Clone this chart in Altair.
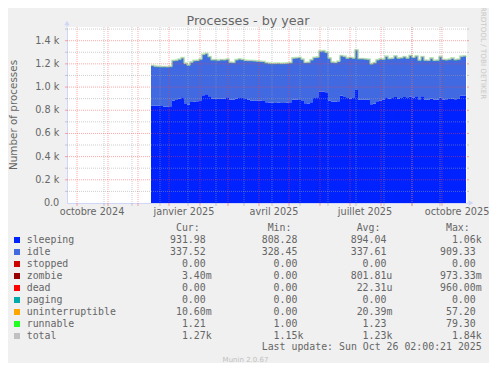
import altair as alt
import pandas as pd

# ---------------- data ----------------
start_date = "2024-12-14"
step_days = 3
sleeping = [842,840,838,836,832,830,835,885,888,900,
            912,860,848,872,876,878,880,930,938,920,
            899,899,900,899,900,912,893,890,900,905,
            906,904,890,885,885,884,884,880,870,866,
            864,862,864,862,862,865,870,890,893,895,
            880,860,858,870,905,913,960,962,955,885,
            876,874,878,925,915,905,902,905,975,893,
            892,890,890,852,856,878,885,893,912,900,
            905,915,900,905,915,905,918,910,920,895,
            920,892,890,900,892,890,908,893,895,896,
            900,895,897,925,928,932]
idle = [343,339,339,339,343,344,342,342,343,339,
        339,344,341,342,351,351,359,351,351,341,
        335,335,331,336,334,327,320,321,334,336,
        331,325,337,342,340,339,337,339,339,339,
        339,342,341,341,342,341,339,359,358,359,
        359,351,355,364,349,344,349,349,344,364,
        338,337,343,344,349,344,352,344,344,351,
        352,351,349,347,353,356,356,346,352,344,
        342,352,349,346,346,344,353,344,347,336,
        341,339,339,349,337,341,353,344,339,343,
        349,340,342,339,339,337]
runnable_level = 1.2

x_domain = ["2024-09-21T00:00:00", "2025-10-26T00:00:00"]
label_dates = ["2024-10-15", "2025-01-15", "2025-04-15", "2025-07-15", "2025-10-15"]
month_starts = ["2024-10-01", "2024-11-01", "2024-12-01", "2025-01-01", "2025-02-01",
                "2025-03-01", "2025-04-01", "2025-05-01", "2025-06-01", "2025-07-01",
                "2025-08-01", "2025-09-01", "2025-10-01"]
minor_dates = ["2024-10-28", "2024-11-25", "2024-12-23", "2025-01-20", "2025-02-17",
               "2025-03-17", "2025-04-14", "2025-05-12", "2025-06-09", "2025-07-07",
               "2025-08-04", "2025-09-01", "2025-09-29"]
y_major = [200, 400, 600, 800, 1000, 1200, 1400]
y_minor = [100, 300, 500, 700, 900, 1100, 1300, 1500]
y_ticks = [0, 200, 400, 600, 800, 1000, 1200, 1400]

names = ["sleeping", "idle", "stopped", "zombie", "dead", "paging",
         "uninterruptible", "runnable", "total"]
colors = ["#0022ff", "#4169e1", "#cc0000", "#990000", "#ff0000", "#00aaaa",
          "#ffa500", "#22ff22", "#c0c0c0"]
cur = ["931.98", "337.52", "0.00", "3.40m", "0.00", "0.00", "10.60m", "1.21", "1.27k"]
mins = ["808.28", "328.45", "0.00", "0.00", "0.00", "0.00", "0.00", "1.00", "1.15k"]
avgs = ["894.04", "337.61", "0.00", "801.81u", "22.31u", "0.00", "20.39m", "1.23", "1.23k"]
maxs = ["1.06k", "909.33", "0.00", "973.33m", "960.00m", "0.00", "57.20", "79.30", "1.84k"]
headers = ["Cur:", "Min:", "Avg:", "Max:"]
last_update = "Last update: Sun Oct 26 02:00:21 2025"

assert len(sleeping) == len(idle)

# ---------------- layout constants ----------------
W, H = 400, 176
PAD_L, PAD_T = 59, 19
TOTAL_W, TOTAL_H = 481, 355
OX, OY = 8 + PAD_L, 8 + PAD_T        # page coords of plot origin
Y_MAX = 1518
FONT = "DejaVu Sans"
MONO = "DejaVu Sans Mono"
FC = "#666666"
AXIS_C = "#CFD6F8"
MGRID = "#ff4040"
GRID = "#a0a0a0"

dates = pd.date_range(start_date, periods=len(sleeping), freq=f"{step_days}D")
df = pd.DataFrame({"date": dates, "sleeping": sleeping, "idle": idle})

xs = alt.Scale(domain=x_domain)
ys = alt.Scale(domain=[0, Y_MAX], nice=False, zero=True)

month_expr = ("['janvier','février','mars','avril','mai','juin','juillet','août',"
              "'septembre','octobre','novembre','décembre'][month(datum.value)]"
              " + ' ' + timeFormat(datum.value, '%Y')")

x_axis = alt.Axis(values=[alt.DateTime(year=int(d[:4]), month=int(d[5:7]), date=int(d[8:10]), hours=12)
                          for d in label_dates],
                  labelExpr=month_expr, ticks=False, grid=False, domainColor=AXIS_C,
                  labelFont=FONT, labelFontSize=9.7, labelColor=FC, labelPadding=3,
                  title=None, labelOverlap=False, labelFlush=False)
y_axis = alt.Axis(labels=False, ticks=False, grid=False, domainColor=AXIS_C, title=None)

base = alt.Chart(df)

sleep_area = base.mark_area(color="#0022ff", interpolate="step-after").encode(
    x=alt.X("date:T", scale=xs, axis=x_axis),
    y=alt.Y("sleeping:Q", scale=ys, axis=y_axis),
)
idle_area = base.transform_calculate(top="datum.sleeping + datum.idle").mark_area(
    color="#4169e1", interpolate="step-after").encode(
    x="date:T", y="top:Q", y2="sleeping:Q")
run_line = base.transform_calculate(total=f"datum.sleeping + datum.idle + {runnable_level}").mark_line(
    color="#22ff22", strokeWidth=2, opacity=0.3, interpolate="step-after").encode(
    x="date:T", y="total:Q")
total_line = base.transform_calculate(total=f"datum.sleeping + datum.idle + {runnable_level}").mark_line(
    color="#c0c0c0", strokeWidth=1, interpolate="step-after").encode(
    x="date:T", y="total:Q")

# y tick labels (as text, one per grid value)
ylab = alt.Chart(pd.DataFrame({"v": y_ticks})).transform_calculate(
    lab="datum.v == 0 ? '0.0' : format(datum.v / 1000, '.1f') + ' k'"
).mark_text(font=FONT, fontSize=9.7, color=FC, align="right", baseline="middle").encode(
    y="v:Q", x=alt.value(-7.7), text="lab:N")

# grid
def vrules(dlist, color, op):
    d = pd.DataFrame({"d": pd.to_datetime(dlist)})
    g = alt.Chart(d).mark_rule(color=color, opacity=op, strokeDash=[1, 1], strokeWidth=1).encode(
        x="d:T", y=alt.value(0), y2=alt.value(H))
    t = alt.Chart(d).mark_rule(color=color, opacity=op, strokeWidth=1).encode(
        x="d:T", y=alt.value(H), y2=alt.value(H + 3))
    return g + t

def hrules(vals, color, op):
    d = pd.DataFrame({"v": vals})
    g = alt.Chart(d).mark_rule(color=color, opacity=op, strokeDash=[1, 1], strokeWidth=1).encode(
        y="v:Q", x=alt.value(0), x2=alt.value(W))
    t1 = alt.Chart(d).mark_rule(color=color, opacity=op, strokeWidth=1).encode(
        y="v:Q", x=alt.value(-2), x2=alt.value(0))
    t2 = alt.Chart(d).mark_rule(color=color, opacity=op, strokeWidth=1).encode(
        y="v:Q", x=alt.value(W), x2=alt.value(W + 2))
    return g + t1 + t2

grid = (vrules(minor_dates, GRID, 0.5) + vrules(month_starts, MGRID, 0.45)
        + hrules(y_minor, GRID, 0.5) + hrules(y_major, MGRID, 0.45))

# axis arrows / extension
arrow_df = pd.DataFrame({"a": [0]})
x_ext = alt.Chart(arrow_df).mark_rule(color=AXIS_C).encode(
    x=alt.value(W), x2=alt.value(W + 4), y=alt.value(H))
y_ext = alt.Chart(arrow_df).mark_rule(color=AXIS_C).encode(
    x=alt.value(0), y=alt.value(-3), y2=alt.value(0))
arrow_up = alt.Chart(arrow_df).mark_point(shape="triangle-up", filled=True, color=AXIS_C,
                                          size=30, opacity=1).encode(x=alt.value(0), y=alt.value(-4))
arrow_right = alt.Chart(arrow_df).mark_point(shape="triangle-right", filled=True, color=AXIS_C,
                                             size=30, opacity=1).encode(x=alt.value(W + 4), y=alt.value(H))

# titles / side texts
def label(text, px, py, size, color=FC, font=FONT, angle=0, align="center", baseline="middle"):
    return alt.Chart(pd.DataFrame({"t": [text]})).mark_text(
        font=font, fontSize=size, color=color, angle=angle, align=align, baseline=baseline
    ).encode(text="t:N", x=alt.value(px), y=alt.value(py))

title = label("Processes - by year", 248 - OX, 25 - OY, 12.7, baseline="alphabetic")
ytitle = label("Number of processes", 14 - OX, 115 - OY, 10.4, angle=270)
rrd = label("RRDTOOL / TOBI OETIKER", 482.5 - OX, 53 - OY, 7.2, color="#c8c8c8", angle=90)
munin = label("Munin 2.0.67", 245.5 - OX, 360 - OY, 7, color="#c0c0c0")

# legend table
CW = 5.95
row0 = 240
col_start = [170, 261.7, 350.7, 440]
cells = []
for i, nm in enumerate(names):
    py = row0 + 12 * i - OY
    cells.append({"t": nm, "px": 26.7 - OX, "py": py})
    for c, col in enumerate([cur, mins, avgs, maxs]):
        s = col[i]
        field = s if s[-1] in "kmu" else s + " "
        cells.append({"t": s, "px": col_start[c] + (7 - len(field)) * CW - OX, "py": py})
for c, h in enumerate(headers):
    cells.append({"t": h, "px": col_start[c] + CW - OX, "py": 228.3 - OY})
cells_df = pd.DataFrame(cells)
legend_text = alt.Chart(cells_df).mark_text(
    font=MONO, fontSize=9.9, color=FC, align="left", baseline="middle").encode(
    text="t:N", x=alt.X("px:Q", scale=None), y=alt.Y("py:Q", scale=None))
upd = label(last_update, 481.7 - OX, 347.3 - OY, 9.9, font=MONO, align="right")

sq_df = pd.DataFrame({"c": colors, "px": [17 - OX] * len(colors),
                      "py": [row0 + 12 * i - OY for i in range(len(colors))]})
squares = alt.Chart(sq_df).mark_square(size=36, opacity=1, filled=True).encode(
    x=alt.X("px:Q", scale=None), y=alt.Y("py:Q", scale=None),
    color=alt.Color("c:N", scale=None))

chart = alt.layer(
    sleep_area, idle_area, run_line, total_line, grid, ylab,
    x_ext, y_ext, arrow_up, arrow_right,
    title, ytitle, rrd, munin, legend_text, upd, squares
).properties(
    width=W, height=H,
    autosize=alt.AutoSizeParams(type="none"),
    padding={"left": PAD_L, "top": PAD_T, "right": TOTAL_W - PAD_L - W, "bottom": TOTAL_H - PAD_T - H},
    background="#f0f0f0",
).configure_view(stroke=None, fill="#ffffff")

chart.save("out.html", embed_options={"renderer": "svg", "actions": False})
